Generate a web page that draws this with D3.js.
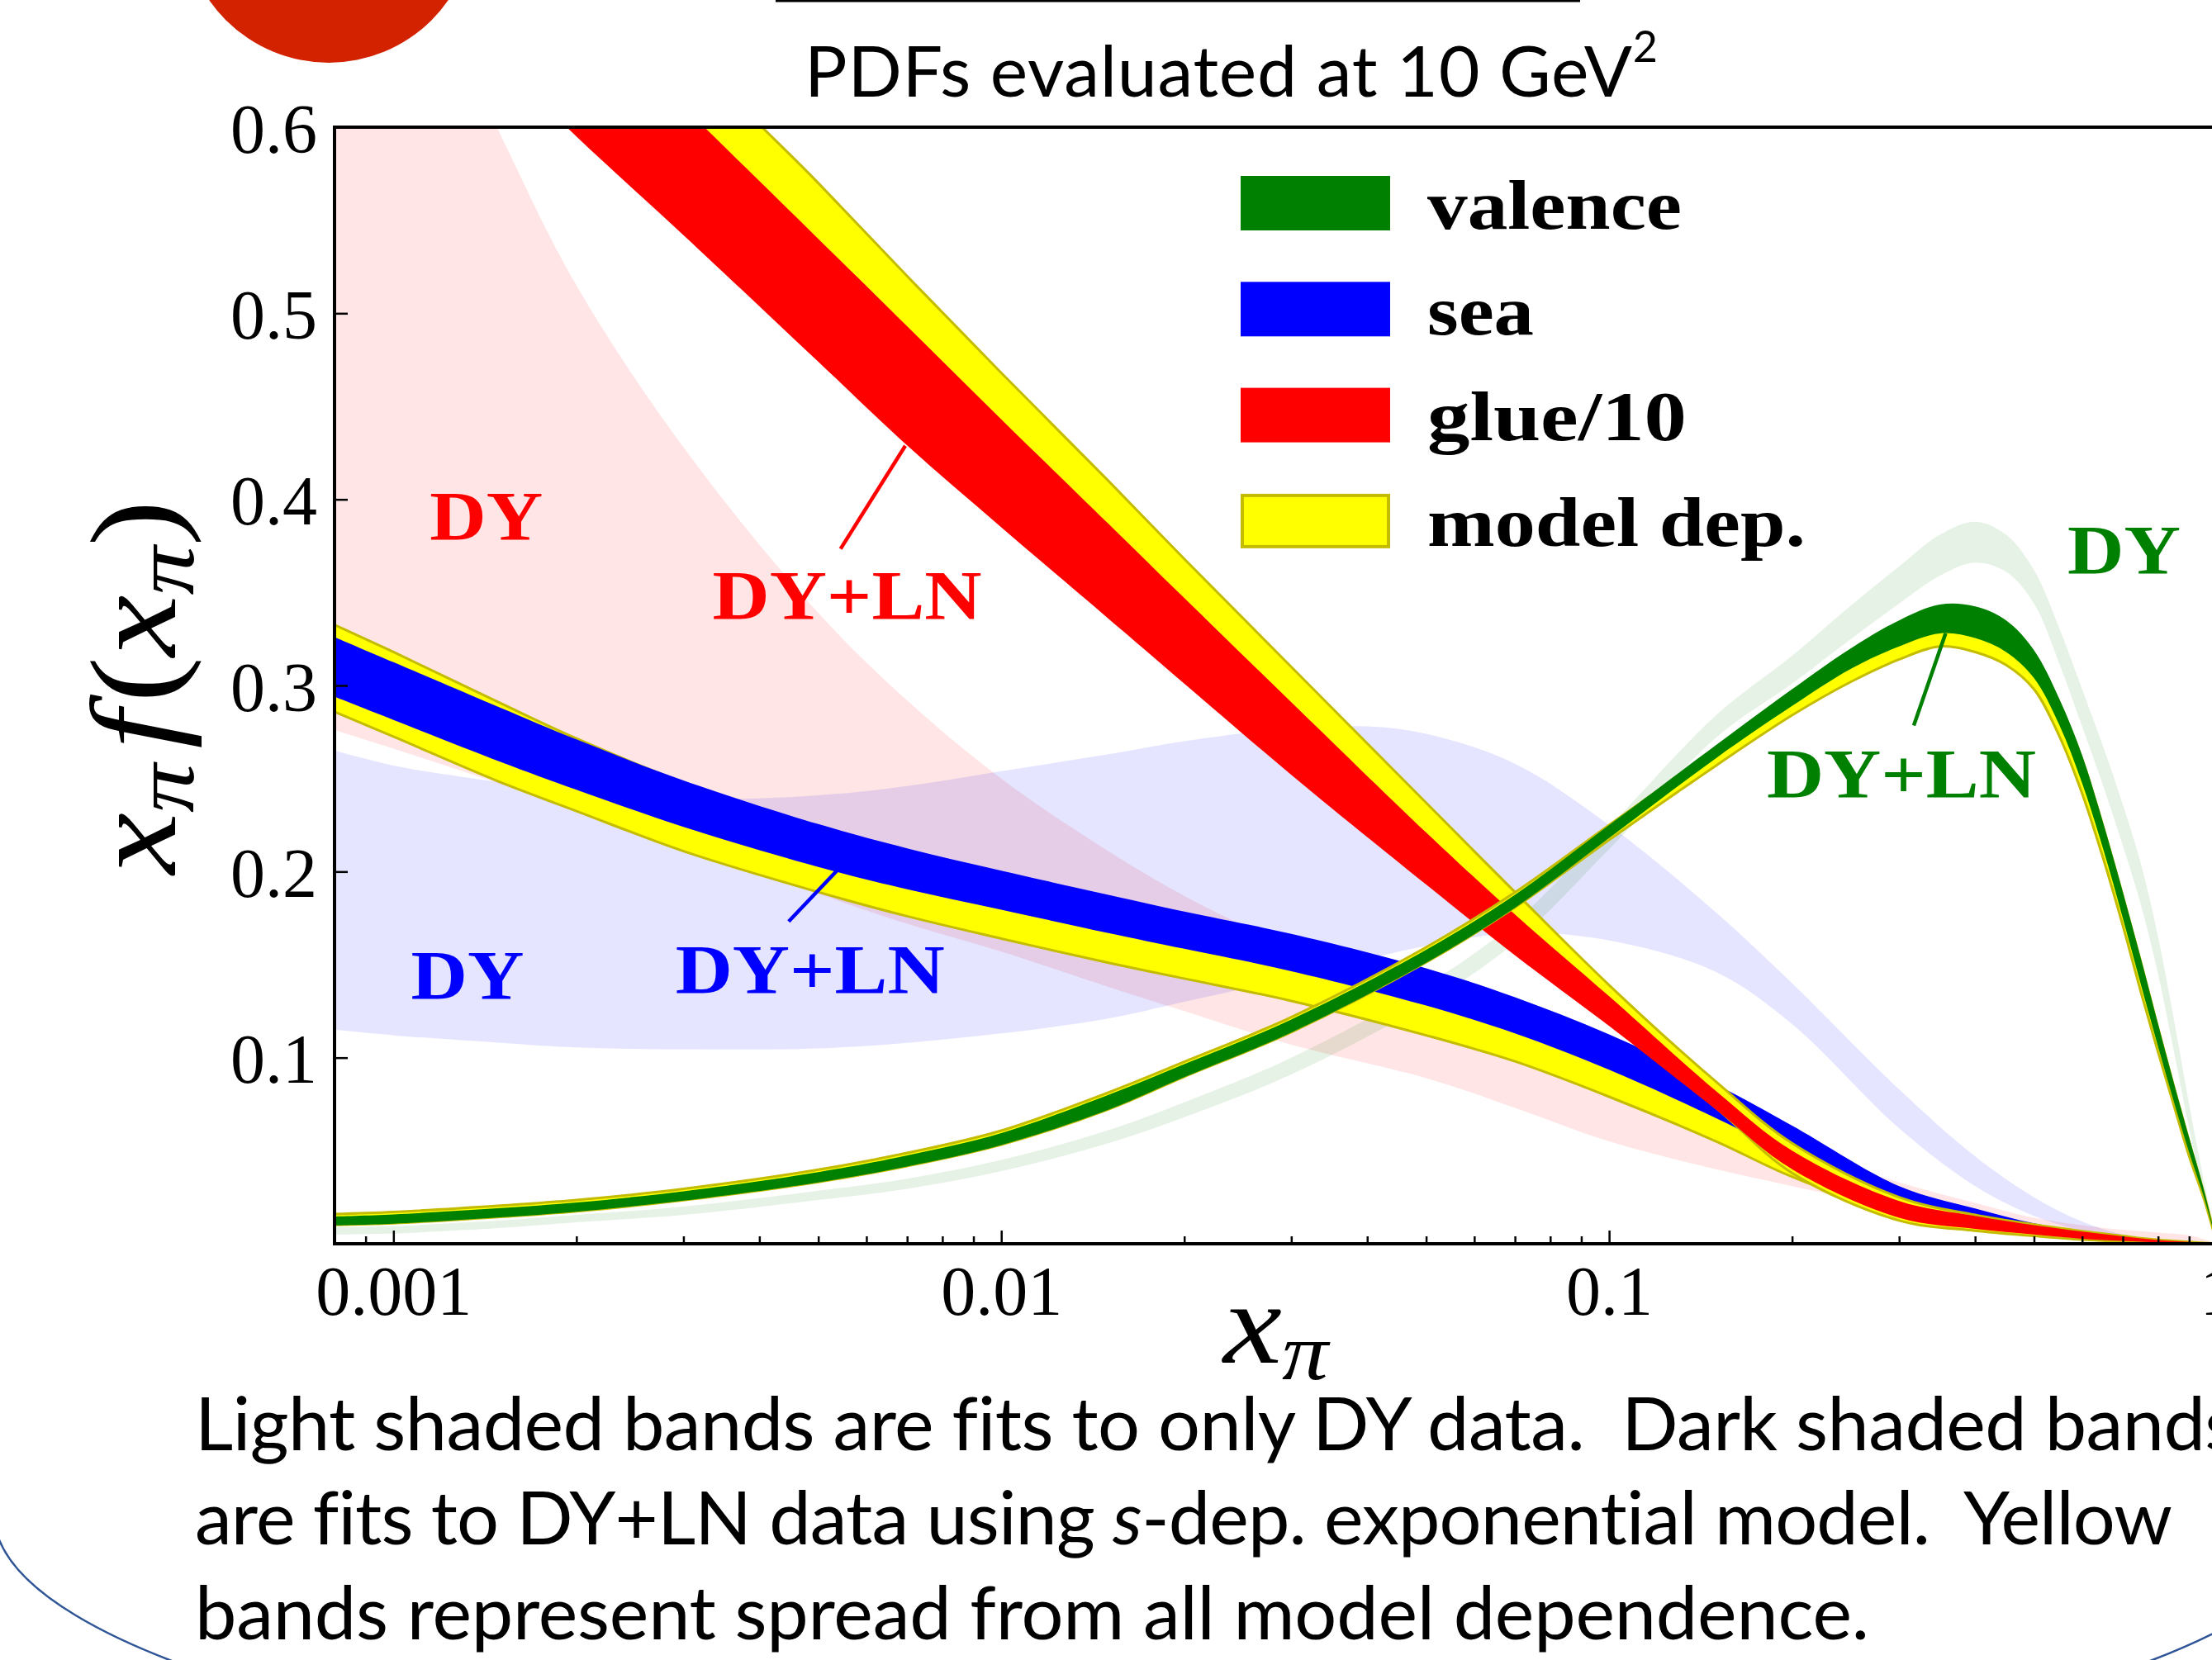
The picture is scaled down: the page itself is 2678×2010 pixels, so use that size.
<!DOCTYPE html>
<html><head><meta charset="utf-8">
<script src="https://cdn.jsdelivr.net/npm/d3@7"></script>
<style>
html,body{margin:0;padding:0;background:#fff;overflow:hidden}
svg{display:block}
</style></head><body>
<svg id="c" width="2678" height="2010"></svg>
<script>
// ---------------- DATA ----------------
// gluon / 10
const glueX = [0.0008,0.001,0.0015,0.002,0.003,0.005,0.007,0.01,0.015,0.02,0.03,0.05,0.07,0.1,0.15,0.2,0.3,0.4,0.5,0.6,0.7,0.8,0.9,1.0];
const glueLow  = [0.72,0.69,0.635,0.595,0.542,0.474,0.429,0.385,0.336,0.301,0.252,0.193,0.155,0.117,0.072,0.040,0.014,0.008,0.005,0.0027,0.0015,0.0007,0.0002,0];
const glueHigh = [0.794,0.763,0.707,0.667,0.611,0.540,0.493,0.443,0.387,0.347,0.291,0.221,0.177,0.133,0.082,0.050,0.023,0.015,0.010,0.0066,0.004,0.002,0.001,0];
const glueModelLow  = [0.723,0.693,0.638,0.598,0.545,0.477,0.432,0.388,0.339,0.304,0.255,0.196,0.158,0.119,0.073,0.038,0.0125,0.007,0.0042,0.0022,0.0012,0.0005,0.0001,0];
const glueModelHigh = [0.86,0.83,0.77,0.73,0.645,0.570,0.520,0.468,0.410,0.368,0.310,0.237,0.189,0.139,0.087,0.054,0.025,0.0155,0.0103,0.0068,0.0042,0.0021,0.001,0];
const glueDYLow  = [0.276,0.266,0.247,0.232,0.214,0.188,0.172,0.157,0.138,0.125,0.107,0.089,0.073,0.055,0.040,0.031,0.019,0.012,0.0075,0.0045,0.0028,0.0015,0.0006,0];
const glueDYHigh = [0.79,0.72,0.596,0.515,0.428,0.339,0.292,0.250,0.211,0.187,0.159,0.128,0.109,0.089,0.066,0.051,0.033,0.022,0.014,0.010,0.0075,0.006,0.0045,0];

// sea
const seaX = [0.0008,0.001,0.0015,0.002,0.003,0.005,0.007,0.01,0.015,0.02,0.03,0.05,0.07,0.1,0.15,0.2,0.3,0.4,0.5,0.6,0.7,0.8,0.9,1.0];
const seaLow  = [0.294,0.2815,0.259,0.244,0.224,0.2025,0.1905,0.1795,0.167,0.1585,0.1465,0.128,0.113,0.0935,0.0675,0.0475,0.0225,0.014,0.008,0.0044,0.0021,0.0008,0.0002,0];
const seaHigh = [0.326,0.3125,0.288,0.271,0.249,0.2255,0.2125,0.2005,0.1875,0.1785,0.1665,0.148,0.1325,0.1125,0.0855,0.0635,0.031,0.019,0.011,0.0066,0.0033,0.0013,0.0003,0];
const seaModelLow  = [0.2858,0.2725,0.248,0.2325,0.211,0.189,0.176,0.164,0.151,0.1425,0.1305,0.112,0.098,0.079,0.055,0.036,0.016,0.010,0.006,0.003,0.0015,0.0005,0.0001,0];
const seaModelHigh = [0.3326,0.318,0.2905,0.2715,0.248,0.2245,0.2115,0.1995,0.1865,0.1775,0.1655,0.147,0.1315,0.1115,0.0845,0.0625,0.030,0.018,0.010,0.006,0.0028,0.0011,0.0003,0];
const seaDYX = [0.0008,0.001,0.0015,0.002,0.003,0.005,0.007,0.01,0.015,0.02,0.03,0.04,0.05,0.07,0.1,0.15,0.2,0.3,0.4,0.5,0.6,0.7,0.8,0.9,1.0];
const seaDYLow  = [0.115,0.112,0.108,0.1055,0.1045,0.105,0.108,0.113,0.121,0.130,0.143,0.153,0.160,0.167,0.163,0.146,0.118,0.062,0.031,0.015,0.007,0.003,0.001,0.0003,0];
const seaDYHigh = [0.265,0.257,0.248,0.243,0.239,0.241,0.246,0.254,0.263,0.270,0.277,0.278,0.274,0.258,0.225,0.178,0.140,0.083,0.047,0.025,0.012,0.005,0.002,0.0005,0];

// valence
const valX = [0.0008,0.001,0.0015,0.002,0.003,0.005,0.007,0.01,0.015,0.02,0.03,0.05,0.07,0.1,0.15,0.2,0.25,0.3,0.35,0.4,0.45,0.5,0.55,0.6,0.65,0.7,0.75,0.8,0.85,0.9,0.95,1.0];
const valLow  = [0.0099,0.0108,0.0142,0.0172,0.0232,0.0330,0.0415,0.0530,0.0720,0.0895,0.1135,0.151,0.1805,0.218,0.261,0.289,0.309,0.321,0.328,0.3255,0.318,0.304,0.279,0.2475,0.212,0.175,0.139,0.106,0.076,0.049,0.026,0];
const valHigh = [0.0147,0.0158,0.0192,0.0222,0.0282,0.0385,0.0475,0.0595,0.0800,0.0965,0.1205,0.158,0.1875,0.225,0.268,0.298,0.320,0.335,0.3435,0.3425,0.335,0.319,0.293,0.2625,0.226,0.189,0.153,0.118,0.086,0.057,0.030,0];
const valModelLow  = [0.0101,0.0110,0.0144,0.0174,0.0234,0.0332,0.0417,0.0532,0.0722,0.0897,0.1137,0.1512,0.1807,0.217,0.257,0.284,0.302,0.314,0.321,0.318,0.311,0.298,0.273,0.242,0.207,0.171,0.135,0.103,0.074,0.047,0.025,0];
const valModelHigh = [0.0160,0.0171,0.0205,0.0235,0.0295,0.0398,0.0488,0.0608,0.0813,0.0978,0.1218,0.1593,0.1888,0.225,0.266,0.296,0.318,0.333,0.3415,0.3405,0.333,0.317,0.291,0.2605,0.224,0.187,0.151,0.116,0.084,0.055,0.028,0];
const valDYLow  = [0.0049,0.0055,0.0085,0.0115,0.0155,0.0235,0.0295,0.039,0.054,0.068,0.091,0.129,0.162,0.212,0.272,0.301,0.325,0.344,0.359,0.366,0.361,0.344,0.312,0.278,0.246,0.214,0.182,0.145,0.103,0.062,0.027,0];
const valDYHigh = [0.0088,0.0095,0.0125,0.0155,0.020,0.0285,0.035,0.045,0.061,0.076,0.100,0.139,0.173,0.224,0.284,0.316,0.343,0.364,0.381,0.388,0.381,0.362,0.331,0.298,0.267,0.236,0.204,0.165,0.120,0.075,0.035,0];

// ticks & texts
const xTicks = [0.001,0.01,0.1,1];
const xTickLabels = ["0.001","0.01","0.1","1"];
const xMinorTicks = [0.0009,0.002,0.003,0.004,0.005,0.006,0.007,0.008,0.009,0.02,0.03,0.04,0.05,0.06,0.07,0.08,0.09,0.2,0.3,0.4,0.5,0.6,0.7,0.8,0.9];
const yTicks = [0.1,0.2,0.3,0.4,0.5,0.6];
const legendItems = ["valence","sea","glue/10","model dep."];
const annotationTexts = ["DY","DY+LN","DY","DY+LN","DY","DY+LN"];
const captionLine1 = "Light shaded bands are fits to only DY data.\u00A0 Dark shaded bands";
const captionLine2a = "are fits to DY+LN data using ";
const captionLine2b = "s";
const captionLine2c = "-dep. exponential model.\u00A0 Yellow";
const captionLine3 = "bands represent spread from all model dependence.";

// ---------------- DRAW ----------------
const svg = d3.select("#c");
const xS = d3.scaleLog().domain([0.0008, 1]).range([405, 2684]);
const yS = d3.scaleLinear().domain([0, 0.6]).range([1506, 154]);

const RED = "#ff0000", BLUE = "#0000ff", GREEN = "#008000", YEL = "#ffff00", OLIVE = "#c4bc00";

// slide decorations
svg.append("circle").attr("cx", 398).attr("cy", -100).attr("r", 176).attr("fill", "#d32200");
svg.append("rect").attr("x", 939).attr("y", 0).attr("width", 974).attr("height", 2.5).attr("fill", "#000");
svg.append("path").attr("d", "M -7.5,1832 A 1413 337 0 0 0 2818.5,1832")
  .attr("fill", "none").attr("stroke", "#2f5597").attr("stroke-width", 2.5);

svg.append("defs").append("clipPath").attr("id", "pc").append("rect")
  .attr("x", xS(0.0008)).attr("y", yS(0.6))
  .attr("width", xS(1) - xS(0.0008)).attr("height", yS(0) - yS(0.6));

const plot = svg.append("g").attr("clip-path", "url(#pc)");
const area = d3.area().x(d => xS(d.x)).y0(d => yS(d.lo)).y1(d => yS(d.hi))
  .curve(d3.curveCatmullRom.alpha(0.5));
const rows = (xs, lo, hi) => xs.map((x, i) => ({x, lo: lo[i], hi: hi[i]}));

// light (DY-only) bands
[[glueX, glueDYLow, glueDYHigh, RED], [seaDYX, seaDYLow, seaDYHigh, BLUE], [valX, valDYLow, valDYHigh, GREEN]]
  .forEach(([xs, lo, hi, c]) => plot.append("path").datum(rows(xs, lo, hi)).attr("d", area)
    .attr("fill", c).attr("fill-opacity", 0.1));

// families: model-dependence band then DY+LN band
[[seaX, seaModelLow, seaModelHigh, seaLow, seaHigh, BLUE],
 [glueX, glueModelLow, glueModelHigh, glueLow, glueHigh, RED],
 [valX, valModelLow, valModelHigh, valLow, valHigh, GREEN]]
 .forEach(([xs, ml, mh, lo, hi, c]) => {
   plot.append("path").datum(rows(xs, ml, mh)).attr("d", area)
     .attr("fill", YEL).attr("stroke", OLIVE).attr("stroke-width", 3).attr("stroke-linejoin", "round");
   plot.append("path").datum(rows(xs, lo, hi)).attr("d", area).attr("fill", c);
 });

// annotations
const annPos = [[0.001147,0.3783,RED],[0.003348,0.3357,RED],[0.001069,0.13145,BLUE],[0.002910,0.13447,BLUE],[0.5675,0.3597,GREEN],[0.18165,0.23965,GREEN]];
const leaders = [[0.005440,0.3734,0.006952,0.4288,RED],[0.004469,0.1732,0.005512,0.2045,BLUE],[0.3171,0.2785,0.3578,0.3281,GREEN]];
leaders.forEach(([x1,y1,x2,y2,c]) => plot.append("line")
  .attr("x1", xS(x1)).attr("y1", yS(y1)).attr("x2", xS(x2)).attr("y2", yS(y2))
  .attr("stroke", c).attr("stroke-width", 4.5));
annotationTexts.forEach((t, i) => {
  const [x, y, c] = annPos[i];
  plot.append("text").attr("x", xS(x)).attr("y", yS(y)).text(t)
    .attr("font-family", "Liberation Serif").attr("font-weight", "bold").attr("font-size", 84)
    .attr("fill", c).attr("textLength", t.length > 2 ? 326 : 137).attr("lengthAdjust", "spacingAndGlyphs");
});

// axes
const styleAxis = g => {
  g.select(".domain").remove();
  g.selectAll(".tick line").attr("stroke", "#000").attr("stroke-width", 2.5);
  g.selectAll(".tick text").attr("font-family", "Liberation Serif").attr("font-size", 84).attr("fill", "#000");
};
const gxMinor = svg.append("g").attr("transform", `translate(0,${yS(0)})`)
  .call(d3.axisBottom(xS).tickValues(xMinorTicks).tickSizeInner(-9).tickSizeOuter(0).tickFormat(() => ""));
styleAxis(gxMinor);
const gx = svg.append("g").attr("transform", `translate(0,${yS(0)})`)
  .call(d3.axisBottom(xS).tickValues(xTicks).tickSizeInner(-16).tickSizeOuter(0).tickPadding(26)
    .tickFormat((d, i) => xTickLabels[i]));
styleAxis(gx);
const gy = svg.append("g").attr("transform", `translate(${xS(0.0008)},0)`)
  .call(d3.axisLeft(yS).tickValues(yTicks).tickSizeInner(-16).tickSizeOuter(0).tickPadding(21)
    .tickFormat(d3.format(".1f")));
styleAxis(gy);
gy.selectAll(".tick text").attr("dy", "0.36em");

svg.append("path")
  .attr("d", `M${xS(1)},${yS(0.6)} H${xS(0.0008)} V${yS(0)} H${xS(1)}`)
  .attr("fill", "none").attr("stroke", "#000").attr("stroke-width", 4).attr("stroke-linecap", "square");

// axis titles
const ylab = svg.append("text").attr("transform", "translate(212,832) rotate(-90)")
  .attr("text-anchor", "middle").attr("font-family", "Liberation Serif").attr("font-size", 148)
  .attr("font-style", "italic").attr("textLength", 453).attr("lengthAdjust", "spacingAndGlyphs");
ylab.append("tspan").text("x");
ylab.append("tspan").attr("font-size", 104).attr("dy", 22).text("π");
ylab.append("tspan").attr("dy", -22).attr("dx", 16).text("f");
ylab.append("tspan").attr("font-style", "normal").attr("dx", 8).text("(");
ylab.append("tspan").text("x");
ylab.append("tspan").attr("font-size", 104).attr("dy", 22).text("π");
ylab.append("tspan").attr("font-style", "normal").attr("dy", -22).text(")");

const xlab = svg.append("text").attr("x", 1481).attr("y", 1650)
  .attr("font-family", "Liberation Serif").attr("font-size", 140).attr("font-style", "italic")
  .attr("textLength", 127).attr("lengthAdjust", "spacingAndGlyphs");
xlab.append("tspan").text("x");
xlab.append("tspan").attr("font-size", 98).attr("dy", 20).text("π");

// legend
const legColors = [GREEN, BLUE, RED, YEL];
const legWidths = [308, 129, 314, 458];
legendItems.forEach((t, i) => {
  const r = svg.append("rect").attr("x", 1502).attr("y", 213 + i * 128.3).attr("width", 181).attr("height", 66)
    .attr("fill", legColors[i]);
  if (i === 3) r.attr("stroke", OLIVE).attr("stroke-width", 4).attr("x", 1504).attr("y", 213 + i * 128.3 + 2)
    .attr("width", 177).attr("height", 62);
  svg.append("text").attr("x", 1728).attr("y", 276.5 + i * 128).text(t)
    .attr("font-family", "Liberation Serif").attr("font-weight", "bold").attr("font-size", 84).attr("fill", "#000")
    .attr("textLength", legWidths[i]).attr("lengthAdjust", "spacingAndGlyphs");
});

// title
const title = svg.append("text").attr("x", 974).attr("y", 117)
  .attr("font-family", "Lato").attr("font-size", 86).attr("fill", "#000");
title.append("tspan").text("PDFs evaluated at 10 GeV");
title.append("tspan").attr("font-size", 52).attr("dy", -42).text("2");

function fitSpacing(sel, target) {
  const w = sel.node().getBBox().width;
  const n = sel.text().length;
  const ls = (target - w) / Math.max(1, n - 1);
  sel.attr("letter-spacing", ls);
  return ls;
}
fitSpacing(title, 1033);

// caption
const capG = svg.append("g").attr("font-family", "Lato").attr("font-size", 90).attr("fill", "#000");
const c1 = capG.append("text").attr("x", 236).attr("y", 1756).text(captionLine1);
const c2 = capG.append("text").attr("x", 236).attr("y", 1870);
c2.append("tspan").text(captionLine2a);
c2.append("tspan").attr("font-style", "italic").text(captionLine2b);
c2.append("tspan").text(captionLine2c);
const c3 = capG.append("text").attr("x", 236).attr("y", 1985).text(captionLine3);
const ls2 = fitSpacing(c2, 2394);
const ls3 = fitSpacing(c3, 2027);
c1.attr("letter-spacing", (ls2 + ls3) / 2);
</script></body></html>
